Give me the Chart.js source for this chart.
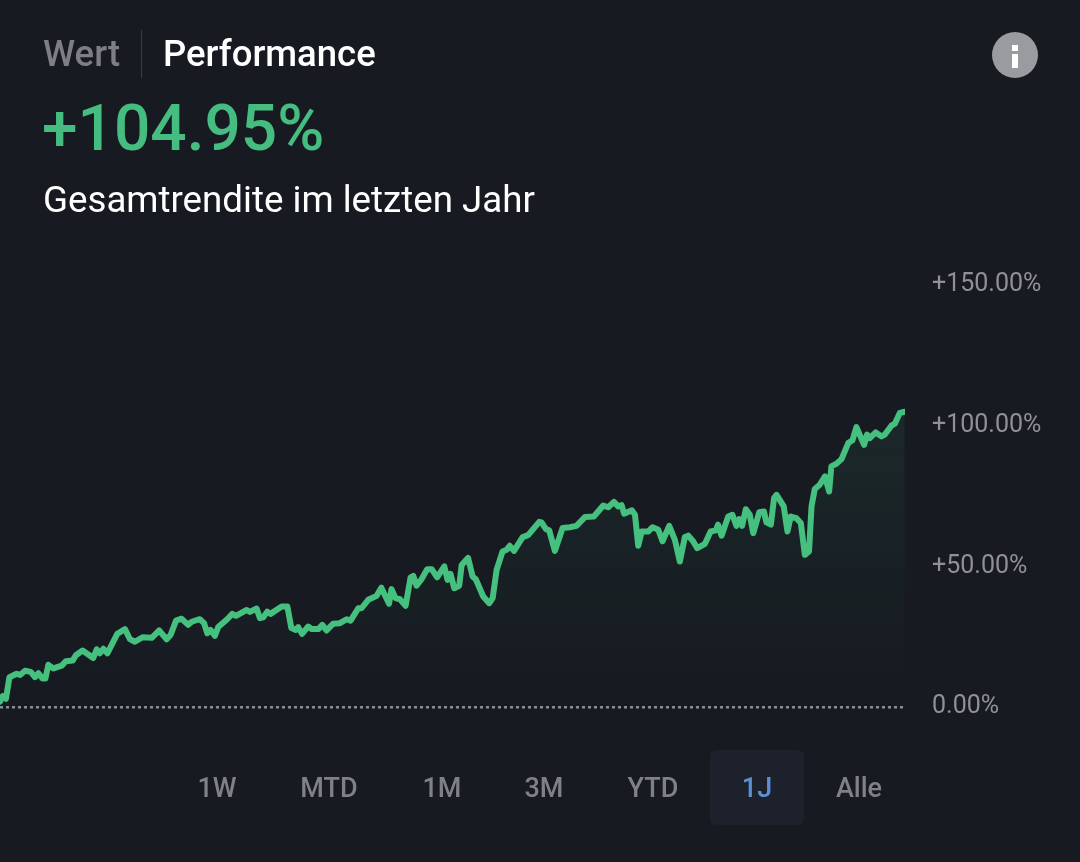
<!DOCTYPE html>
<html lang="de"><head><meta charset="utf-8">
<script src="https://cdn.jsdelivr.net/npm/chart.js@4"></script>
<style>
html,body{margin:0;padding:0;background:#171a21;width:1080px;height:862px;overflow:hidden;font-family:Roboto,sans-serif}
canvas{position:absolute;left:0;top:0}
.t{position:absolute;white-space:nowrap;line-height:1}
.b{position:absolute;top:775px;font-size:27px;font-weight:500;color:#7f8186;line-height:1;transform:translateX(-50%)}
</style></head><body>
<canvas id="c" width="1080" height="862"></canvas>
<div class="t" style="left:43px;top:36px;font-size:36.5px;font-weight:500;color:#7d7f85">Wert</div>
<div style="position:absolute;left:141px;top:30px;width:1px;height:48px;background:#3a3c43"></div>
<div class="t" style="left:163px;top:36px;font-size:36.5px;font-weight:500;color:#fff">Performance</div>
<div class="t" style="left:42px;top:97px;font-size:64px;font-weight:500;color:#45bd80">+104.95%</div>
<div class="t" style="left:43px;top:182px;font-size:36.7px;color:#fff">Gesamtrendite im letzten Jahr</div>
<div style="position:absolute;left:992px;top:32px;width:46px;height:46px;border-radius:50%;background:#9a9b9f"></div>
<div style="position:absolute;left:1012px;top:45px;width:6px;height:6px;background:#fff"></div>
<div style="position:absolute;left:1012px;top:54px;width:6px;height:14px;background:#fff"></div>
<div style="position:absolute;left:710px;top:750px;width:94px;height:75px;border-radius:6px;background:#1d212b"></div>
<div id="btns"></div>
<script>
const ranges = ["1W","MTD","1M","3M","YTD","1J","Alle"];
const rangeCenters = [217,329,442,544,653,757,859];
const yTicks = [0,50,100,150];
const days = [0,1.1,2.4,3.8,6.7,8.1,10.1,12.4,14.1,15.5,17.2,18.3,19.5,21.5,24.9,26.6,29.3,30.6,33.3,37.6,39.0,40.3,41.7,43.3,47.3,50.4,52.4,54.4,57.5,61.2,64.2,67.2,68.8,71.0,73.2,75.9,77.3,80.6,82.3,83.6,84.9,86.7,88.0,91.4,93.7,95.2,99.5,100.8,103.5,104.8,106.2,107.8,109.1,113.6,115.9,117.5,119.3,120.3,121.8,124.3,125.7,128.4,130.0,131.7,134.4,137.1,139.8,141.4,144.5,
145.8,148.5,151.9,153.8,156.9,157.9,159.5,161.3,163.6,165.6,166.7,168.0,170.0,172.3,174.1,176.3,179.2,180.5,181.7,183.2,185.2,186.2,188.8,190.6,191.9,194.9,197.3,198.7,200.3,202.7,204.3,205.6,207.3,210.8,213.0,217.5,218.4,220.2,221.5,223.8,226.9,229.8,232.5,235.9,239.5,243.3,245.3,247.6,249.3,250.7,
251.7,254.8,256.1,257.4,258.8,261.5,263.2,265.5,267.2,269.9,272.2,274.2,276.2,277.6,279.3,281.2,284.3,286.6,288.7,289.6,291.0,293.7,295.4,297.0,298.1,299.3,300.8,302.4,303.8,306.2,308.1,309.1,310.9,312.2,313.2,316.1,317.6,318.9,321.2,323.0,324.6,326.3,327.3,328.6,330.6,332.7,334.4,335.3,337.4,339.4,342.1,343.8,345.4,348.5,349.7,350.8,353.2,355.5,356.8,359.5,360.9,362.9,364.9];
const performance = [1.9,3.9,2.9,10.6,11.8,11.4,12.9,12.5,10.6,12.0,10.1,10.1,15.0,13.7,14.7,16.3,16.5,18.4,20.1,17.4,20.5,19.1,20.7,19.1,26.0,27.7,24.1,23.2,24.8,24.6,27.2,24.1,25.6,30.7,31.4,29.2,30.3,31.2,29.8,26.2,27.4,25.3,28.4,31.0,33.1,32.4,34.5,33.8,35.0,31.6,31.9,33.9,33.1,35.7,35.7,28.1,27.4,28.4,26.0,28.6,27.7,27.7,29.2,27.2,29.6,29.8,31.2,30.7,35.1,
35.1,38.1,39.5,42.4,36.7,41.9,38.7,38.3,36.0,46.1,46.6,43.1,45.4,49.0,49.0,46.1,50.0,45.2,47.3,42.2,43.1,50.5,53.0,46.4,45.4,39.3,36.9,38.7,48.8,55.3,55.9,57.3,55.5,60.4,61.1,65.8,65.6,63.2,62.8,55.5,63.6,63.9,64.4,67.5,67.7,71.6,71.0,72.9,71.3,71.8,
68.7,69.9,68.3,57.3,62.4,62.4,63.9,63.0,58.9,64.4,59.4,51.7,60.4,60.9,59.2,56.5,58.0,62.4,62.8,64.8,60.9,67.7,68.3,64.4,66.8,64.4,70.3,68.3,61.8,69.2,69.5,65.6,64.8,74.3,75.4,71.3,62.4,67.7,67.1,65.4,54.1,55.3,71.3,77.5,79.0,82.0,76.6,85.5,86.5,88.1,93.8,94.8,99.5,93.2,96.8,95.6,97.6,96.2,96.8,100.0,100.7,104.5,104.95];

const box = document.getElementById('btns');
ranges.forEach((r,i)=>{
  const d=document.createElement('div');d.className='b';d.textContent=r;
  d.style.left=rangeCenters[i]+'px';
  if(r==='1J')d.style.color='#5b8fd6';
  box.appendChild(d);
});

new Chart(document.getElementById('c'),{
  type:'line',
  data:{datasets:[{
    data:days.map((d,i)=>({x:d,y:performance[i]})),
    borderColor:'#45c07f',borderWidth:6,pointRadius:0,tension:0,
    borderJoinStyle:'round',borderCapStyle:'round',
    fill:'origin',
    backgroundColor(ctx){
      const a=ctx.chart.chartArea;
      if(!a)return 'transparent';
      const g=ctx.chart.ctx.createLinearGradient(0,ctx.chart.scales.y.getPixelForValue(105),0,a.bottom);
      g.addColorStop(0,'rgba(69,192,127,0.09)');
      g.addColorStop(1,'rgba(69,192,127,0)');
      return g;
    }
  }]},
  options:{
    responsive:false,animation:false,devicePixelRatio:1,
    layout:{padding:{top:285,bottom:155,left:0,right:0}},
    plugins:{legend:{display:false},tooltip:{enabled:false}},
    scales:{
      x:{type:'linear',min:0,max:365,display:false},
      y:{position:'right',min:0,max:150,
        afterBuildTicks(s){s.ticks=yTicks.map(v=>({value:v}));},
        afterFit(s){s.width=175;},
        border:{display:false,dash:[3,3]},
        grid:{drawTicks:false,lineWidth:2.5,color:c=>c.tick&&c.tick.value===0?'#8b8d92':'transparent'},
        ticks:{padding:27,color:'#8f9196',font:{family:'Roboto',size:25},
          callback:v=>(v>0?'+':'')+v.toFixed(2)+'%'}
      }
    }
  }
});
</script>
</body></html>
